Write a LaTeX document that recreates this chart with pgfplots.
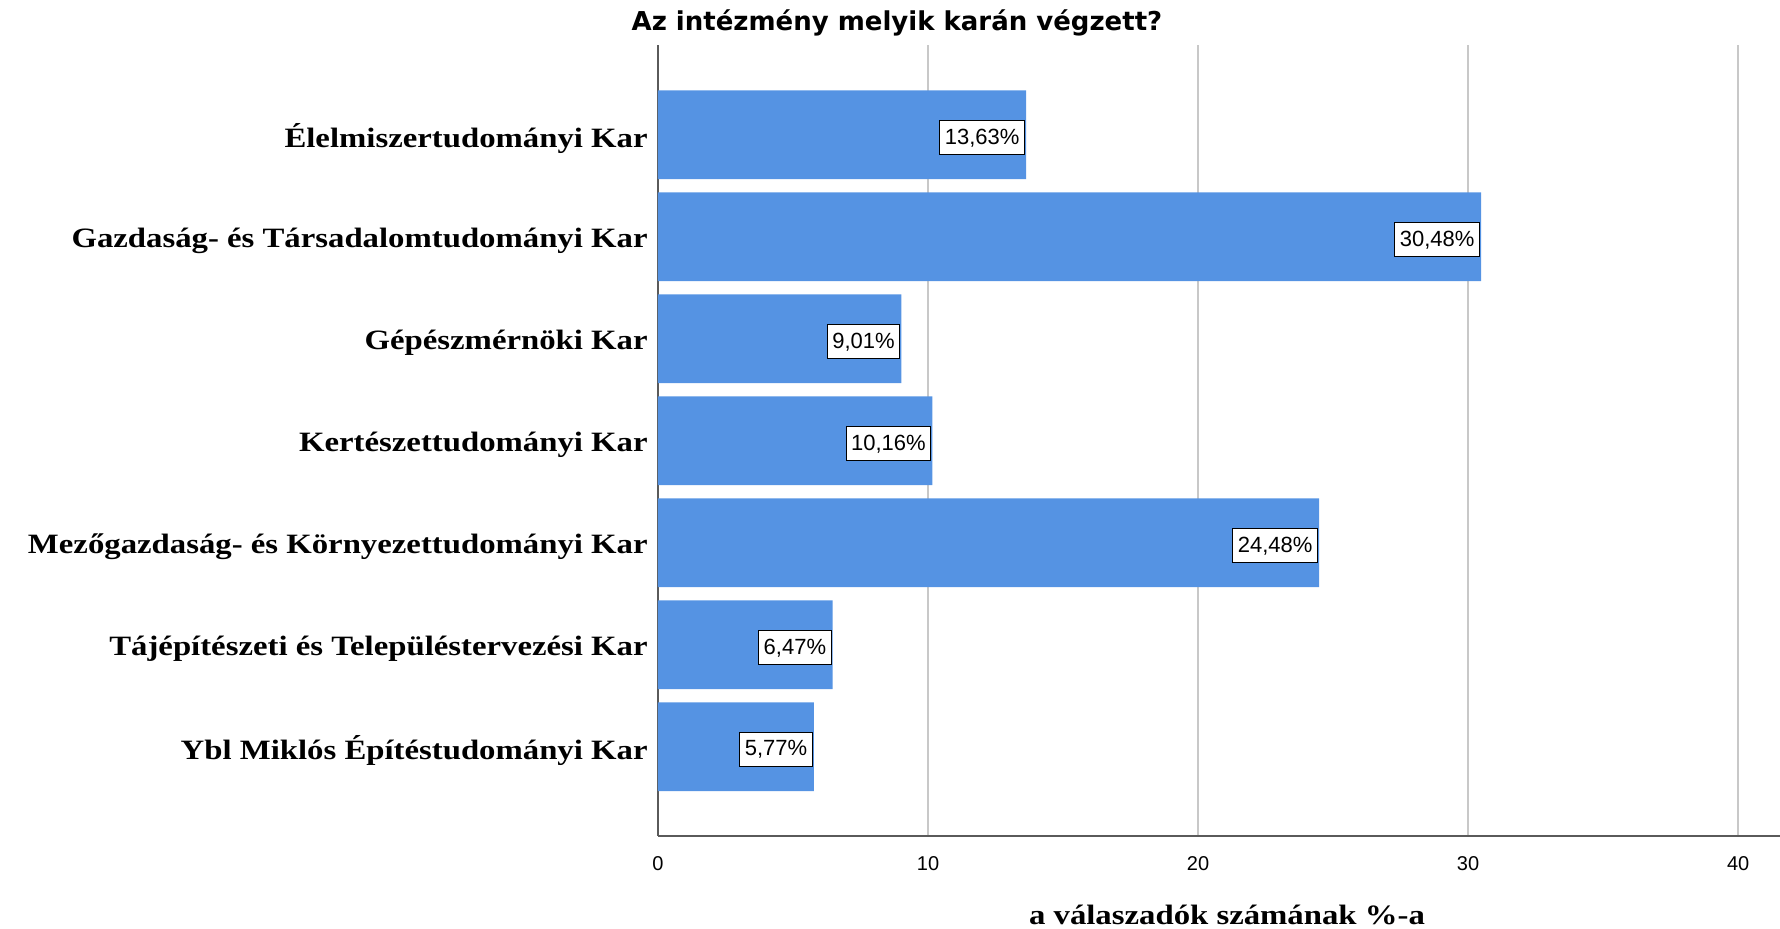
\documentclass[border=0pt]{standalone}
\usepackage{pgfplots}
\pgfplotsset{compat=1.18}
\usepackage{fontspec}
\setmainfont{Liberation Sans}
\newfontfamily\labfont[FakeStretch=1.17]{Liberation Serif}
\newfontfamily\titlefont{DejaVu Sans}
\definecolor{barblue}{RGB}{85,147,227}
\definecolor{gridgray}{RGB}{200,200,200}
\definecolor{axisgray}{RGB}{90,90,90}

\begin{document}
\begin{tikzpicture}
\begin{axis}[
  name=ax,
  at={(0,0)}, anchor=south west,
  width=561pt, height=395.25pt, scale only axis,
  xbar, bar width=0.87,
  xmin=0, xmax=41.55,
  ymin=-0.88, ymax=6.87, y dir=reverse,
  ytick={0,...,6},
  yticklabels={Élelmiszertudományi Kar, Gazdaság- és Társadalomtudományi Kar, Gépészmérnöki Kar, Kertészettudományi Kar, Mezőgazdaság- és Környezettudományi Kar, Tájépítészeti és Településtervezési Kar, Ybl Miklós Építéstudományi Kar},
  yticklabel style={font=\labfont\bfseries\fontsize{14}{16}\selectfont, inner sep=0pt, xshift=-5pt, yshift=-2pt},
  xtick={0,10,20,30,40},
  xticklabel style={font=\fontsize{10}{11}\selectfont, yshift=-7pt},
  /pgf/number format/assume math mode=true,
  major tick length=0pt,
  axis x line*=bottom, axis y line*=left,
  axis line style={-, draw=axisgray, line width=1pt},
  xmajorgrids, grid style={gridgray, line width=1pt},
  point meta=x,
  nodes near coords={\pgfmathprintnumber[fixed,fixed zerofill,precision=2,use comma]{\pgfplotspointmeta}\%},
  every node near coord/.append style={anchor=east, fill=white, draw=black, line width=0.6pt, inner xsep=2.5pt, inner ysep=4pt, font=\fontsize{11}{12}\selectfont, xshift=-0.5pt, yshift=-1.5pt},
  title={Az intézmény melyik karán végzett?},
  title style={font=\titlefont\bfseries\fontsize{13}{15}\selectfont, at={(axis description cs:0.213,1)}, anchor=base, yshift=1pt},
  xlabel={a válaszadók számának \%-a},
  xlabel style={font=\labfont\bfseries\fontsize{14}{16}\selectfont, at={(axis description cs:0.5,0)}, anchor=base, yshift=-44.5pt, xshift=4pt},
]
\addplot[fill=barblue, draw=none] coordinates {(13.63,0) (30.48,1) (9.01,2) (10.16,3) (24.48,4) (6.47,5) (5.77,6)};
\end{axis}
\pgfresetboundingbox
\path[use as bounding box] (ax.south west) ++(-329pt,-46.75pt) rectangle ++(890pt,464.5pt);
\end{tikzpicture}
\end{document}
